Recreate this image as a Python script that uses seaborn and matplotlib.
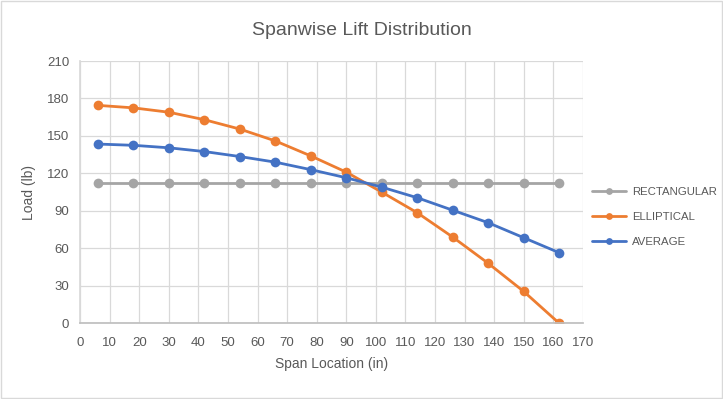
import matplotlib
matplotlib.use("Agg")
import matplotlib.pyplot as plt
import seaborn as sns
import pandas as pd
import numpy as np

span = [6, 18, 30, 42, 54, 66, 78, 90, 102, 114, 126, 138, 150, 162]
rectangular = [112.5] * 14
elliptical = [174.5, 172.5, 169, 163, 155.5, 146, 134, 121, 105, 88.5, 69, 48, 25.5, 0]
average = [143.5, 142.5, 140.5, 137.5, 133.5, 129, 123, 116.5, 109, 100.5, 90.5, 80.5, 68.5, 56.5]
series_names = ["RECTANGULAR", "ELLIPTICAL", "AVERAGE"]
colors = ["#A5A5A5", "#ED7D31", "#4472C4"]

df = pd.concat([
    pd.DataFrame({"Span": span, "Load": rectangular, "Series": series_names[0]}),
    pd.DataFrame({"Span": span, "Load": elliptical, "Series": series_names[1]}),
    pd.DataFrame({"Span": span, "Load": average, "Series": series_names[2]}),
])

sns.set_theme(style="white")
plt.rcParams['font.family'] = ['Liberation Sans', 'DejaVu Sans']

fig = plt.figure(figsize=(7.23, 3.99), dpi=100)
ax = fig.add_axes([0.111, 0.19, 0.695, 0.657])

sns.lineplot(data=df, x="Span", y="Load", hue="Series", palette=colors,
             hue_order=series_names, marker="o", markersize=7, markeredgewidth=0,
             linewidth=2, ax=ax, legend=True)

ax.set_xlim(0, 170)
ax.set_ylim(0, 210)
ax.set_xticks(np.arange(0, 171, 10))
ax.set_yticks(np.arange(0, 211, 30))
ax.grid(True, color="#D9D9D9", linewidth=0.9)
ax.set_axisbelow(True)
for s in ["top", "right"]:
    ax.spines[s].set_visible(False)
ax.spines["left"].set_color("#D9D9D9")
ax.spines["bottom"].set_color("#BFBFBF")
ax.tick_params(axis="both", labelsize=9.5, colors="#595959", length=0)
ax.tick_params(axis="x", pad=10)
ax.tick_params(axis="y", pad=8)
ax.set_xlabel("Span Location (in)", fontsize=10, color="#595959", labelpad=6)
ax.set_ylabel("Load (lb)", fontsize=10, color="#595959", labelpad=8)
fig.suptitle("Spanwise Lift Distribution", fontsize=14, color="#595959", y=0.945)

handles, labels = ax.get_legend_handles_labels()
ax.legend(handles, labels, loc="center left", bbox_to_anchor=(1.0, 0.405),
          frameon=False, fontsize=8.2, labelcolor="#595959", handlelength=3.0,
          handletextpad=0.5, labelspacing=1.35, markerscale=0.7, borderaxespad=0.4)

fig.patches.append(plt.Rectangle((0.001, 0.002), 0.997, 0.995, transform=fig.transFigure,
                                 fill=False, edgecolor="#D9D9D9", linewidth=1))

fig.savefig("out.png", dpi=100)
